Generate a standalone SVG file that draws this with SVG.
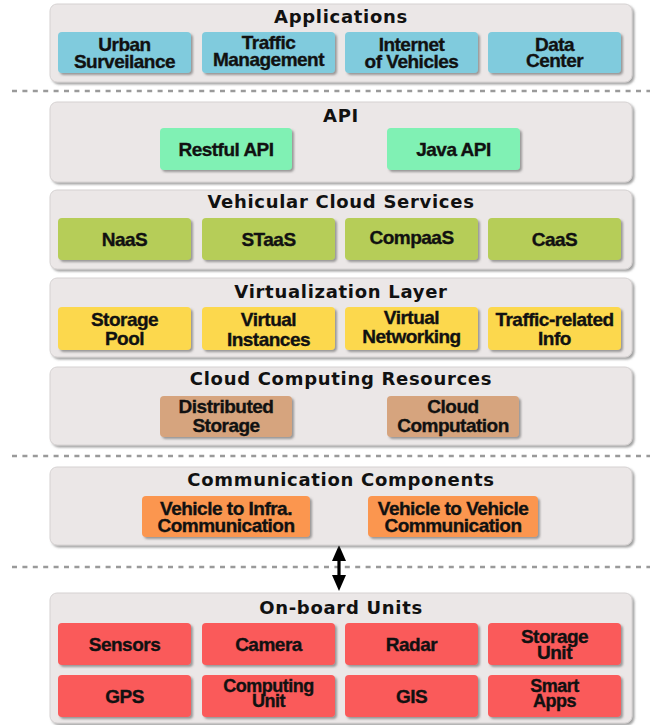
<svg xmlns="http://www.w3.org/2000/svg" width="653" height="725" viewBox="0 0 653 725">
  <defs>
    <filter id="shadow" x="-5%" y="-10%" width="115%" height="130%">
      <feDropShadow dx="2" dy="2" stdDeviation="1" flood-color="#555" flood-opacity="0.55"/>
    </filter>
  </defs>
  <style>
    .layer { fill: #ebe7e7; stroke: #d6d2d2; stroke-width: 1; filter: url(#shadow); }
    .box { stroke: none; filter: url(#shadow); }
    .title { font-family: "DejaVu Sans", Verdana, sans-serif; font-weight: bold; font-size: 18px; letter-spacing: 0.7px; fill: #111; text-anchor: middle; }
    .lbl { font-family: "Liberation Sans", Arial, sans-serif; font-weight: bold; font-size: 19px; letter-spacing: -0.5px; fill: #111; stroke: #111; stroke-width: 0.35; text-anchor: middle; }
    .tight { font-size: 18px; }
    .sep { stroke: #9a9a9a; stroke-width: 2.5; stroke-dasharray: 5 5.4; fill: none; }
    .blue { fill: #80cbdd; }
    .mint { fill: #80f1b4; }
    .green { fill: #b6cd58; }
    .yellow { fill: #fcd84e; }
    .tan { fill: #d6a47e; }
    .orange { fill: #fb9650; }
    .red { fill: #fa5a5a; }
  </style>

  <!-- layer separators and the double-headed link -->
  <g id="connectors">
    <line class="sep" x1="12" y1="91" x2="650" y2="91"/>
    <line class="sep" x1="12" y1="456" x2="650" y2="456"/>
    <line class="sep" x1="12" y1="567" x2="650" y2="567"/>
    <path d="M339,545 L346,561 L340.6,561 L340.6,575 L346,575 L339,591 L332,575 L337.4,575 L337.4,561 L332,561 Z" fill="#000"/>
  </g>

  <!-- Applications -->
  <g id="applications">
    <rect class="layer" x="50" y="4" width="582" height="78" rx="7"/>
    <text class="title" x="341" y="23">Applications</text>
    <g id="urban-surveilance">
      <rect class="box blue" x="58" y="32" width="133" height="41" rx="4"/>
      <text class="lbl" x="124.5" y="51">Urban</text>
      <text class="lbl" x="124.5" y="68">Surveilance</text>
    </g>
    <g id="traffic-management">
      <rect class="box blue" x="202" y="32" width="133" height="41" rx="4"/>
      <text class="lbl" x="268.5" y="49">Traffic</text>
      <text class="lbl" x="268.5" y="66">Management</text>
    </g>
    <g id="internet-of-vehicles">
      <rect class="box blue" x="345" y="32" width="133" height="41" rx="4"/>
      <text class="lbl" x="411.5" y="51">Internet</text>
      <text class="lbl" x="411.5" y="68">of Vehicles</text>
    </g>
    <g id="data-center">
      <rect class="box blue" x="488" y="32" width="133" height="41" rx="4"/>
      <text class="lbl" x="554.5" y="51">Data</text>
      <text class="lbl" x="554.5" y="67">Center</text>
    </g>
  </g>

  <!-- API -->
  <g id="api">
    <rect class="layer" x="50" y="102" width="582" height="80" rx="7"/>
    <text class="title" x="341" y="122">API</text>
    <g id="restful-api">
      <rect class="box mint" x="160" y="128" width="132" height="42" rx="4"/>
      <text class="lbl" x="226" y="156">Restful API</text>
    </g>
    <g id="java-api">
      <rect class="box mint" x="387" y="128" width="133" height="42" rx="4"/>
      <text class="lbl" x="453.5" y="156">Java API</text>
    </g>
  </g>

  <!-- Vehicular Cloud Services -->
  <g id="cloud-services">
    <rect class="layer" x="50" y="190" width="582" height="79" rx="7"/>
    <text class="title" x="341" y="208">Vehicular Cloud Services</text>
    <g id="naas">
      <rect class="box green" x="58" y="218" width="133" height="42" rx="4"/>
      <text class="lbl" x="124.5" y="246">NaaS</text>
    </g>
    <g id="staas">
      <rect class="box green" x="202" y="218" width="133" height="42" rx="4"/>
      <text class="lbl" x="268.5" y="246">STaaS</text>
    </g>
    <g id="compaas">
      <rect class="box green" x="345" y="218" width="133" height="42" rx="4"/>
      <text class="lbl" x="411.5" y="244">CompaaS</text>
    </g>
    <g id="caas">
      <rect class="box green" x="488" y="218" width="133" height="42" rx="4"/>
      <text class="lbl" x="554.5" y="246">CaaS</text>
    </g>
  </g>

  <!-- Virtualization Layer -->
  <g id="virtualization">
    <rect class="layer" x="50" y="278" width="582" height="79" rx="7"/>
    <text class="title" x="341" y="298">Virtualization Layer</text>
    <g id="storage-pool">
      <rect class="box yellow" x="58" y="307" width="133" height="43" rx="4"/>
      <text class="lbl" x="124.5" y="326">Storage</text>
      <text class="lbl" x="124.5" y="345">Pool</text>
    </g>
    <g id="virtual-instances">
      <rect class="box yellow" x="202" y="307" width="133" height="43" rx="4"/>
      <text class="lbl" x="268.5" y="326">Virtual</text>
      <text class="lbl" x="268.5" y="346">Instances</text>
    </g>
    <g id="virtual-networking">
      <rect class="box yellow" x="345" y="307" width="133" height="43" rx="4"/>
      <text class="lbl" x="411.5" y="324">Virtual</text>
      <text class="lbl" x="411.5" y="343">Networking</text>
    </g>
    <g id="traffic-info">
      <rect class="box yellow" x="488" y="307" width="133" height="43" rx="4"/>
      <text class="lbl" x="554.5" y="326">Traffic-related</text>
      <text class="lbl" x="554.5" y="345">Info</text>
    </g>
  </g>

  <!-- Cloud Computing Resources -->
  <g id="cloud-resources">
    <rect class="layer" x="50" y="367" width="582" height="78" rx="7"/>
    <text class="title" x="341" y="385">Cloud Computing Resources</text>
    <g id="distributed-storage">
      <rect class="box tan" x="160" y="396" width="132" height="41" rx="4"/>
      <text class="lbl" x="226" y="413">Distributed</text>
      <text class="lbl" x="226" y="432">Storage</text>
    </g>
    <g id="cloud-computation">
      <rect class="box tan" x="387" y="396" width="132" height="41" rx="4"/>
      <text class="lbl" x="453" y="413">Cloud</text>
      <text class="lbl" x="453" y="432">Computation</text>
    </g>
  </g>

  <!-- Communication Components -->
  <g id="communication">
    <rect class="layer" x="50" y="467" width="582" height="78" rx="7"/>
    <text class="title" x="341" y="486">Communication Components</text>
    <g id="v2i">
      <rect class="box orange" x="142" y="496" width="168" height="41" rx="4"/>
      <text class="lbl" x="226" y="515">Vehicle to Infra.</text>
      <text class="lbl" x="226" y="532">Communication</text>
    </g>
    <g id="v2v">
      <rect class="box orange" x="368" y="496" width="170" height="41" rx="4"/>
      <text class="lbl" x="453" y="515">Vehicle to Vehicle</text>
      <text class="lbl" x="453" y="532">Communication</text>
    </g>
  </g>

  <!-- On-board Units -->
  <g id="onboard-units">
    <rect class="layer" x="50" y="593" width="582" height="130" rx="7"/>
    <text class="title" x="341" y="614">On-board Units</text>
    <g id="sensors">
      <rect class="box red" x="58" y="623" width="133" height="42" rx="4"/>
      <text class="lbl" x="124.5" y="651">Sensors</text>
    </g>
    <g id="camera">
      <rect class="box red" x="202" y="623" width="133" height="42" rx="4"/>
      <text class="lbl" x="268.5" y="651">Camera</text>
    </g>
    <g id="radar">
      <rect class="box red" x="345" y="623" width="133" height="42" rx="4"/>
      <text class="lbl" x="411.5" y="651">Radar</text>
    </g>
    <g id="storage-unit">
      <rect class="box red" x="488" y="623" width="133" height="42" rx="4"/>
      <text class="lbl" x="554.5" y="643">Storage</text>
      <text class="lbl" x="554.5" y="659">Unit</text>
    </g>
    <g id="gps">
      <rect class="box red" x="58" y="675" width="133" height="42" rx="4"/>
      <text class="lbl" x="124.5" y="703">GPS</text>
    </g>
    <g id="computing-unit">
      <rect class="box red" x="202" y="675" width="133" height="42" rx="4"/>
      <text class="lbl tight" x="268.5" y="692">Computing</text>
      <text class="lbl tight" x="268.5" y="707">Unit</text>
    </g>
    <g id="gis">
      <rect class="box red" x="345" y="675" width="133" height="42" rx="4"/>
      <text class="lbl" x="411.5" y="703">GIS</text>
    </g>
    <g id="smart-apps">
      <rect class="box red" x="488" y="675" width="133" height="42" rx="4"/>
      <text class="lbl tight" x="554.5" y="692">Smart</text>
      <text class="lbl tight" x="554.5" y="707">Apps</text>
    </g>
  </g>
</svg>
